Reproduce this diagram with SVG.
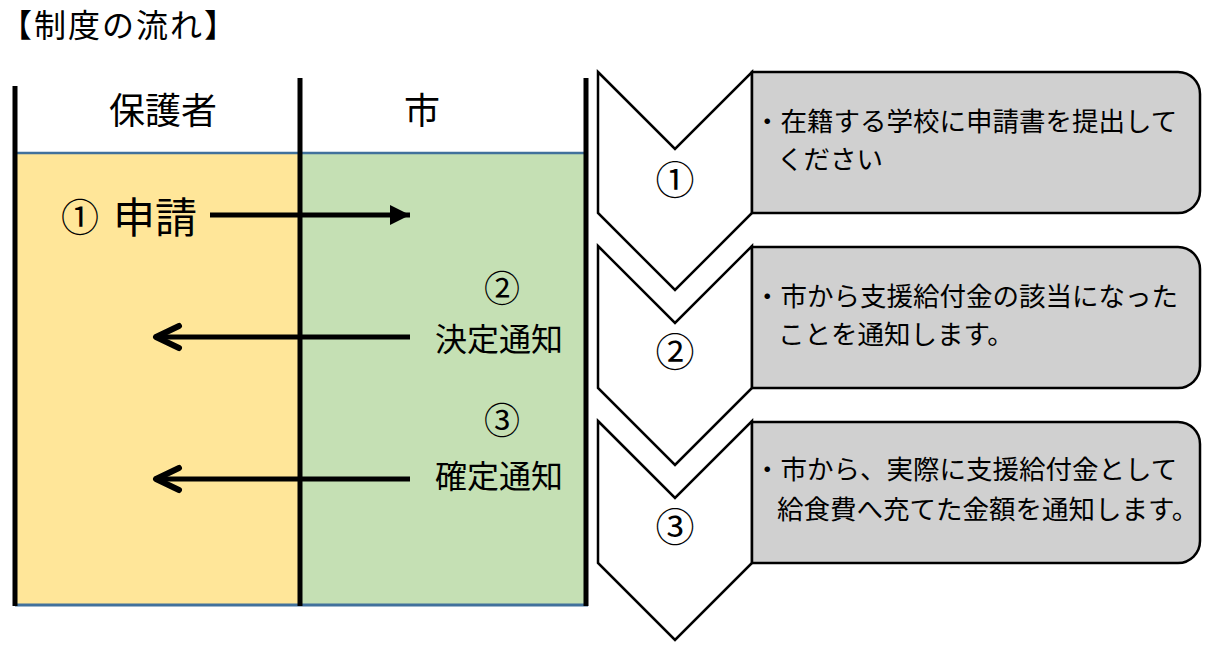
<svg xmlns="http://www.w3.org/2000/svg" width="1207" height="654" viewBox="0 0 1207 654">
<style>
text{font-family:"Noto Sans CJK JP","Noto Sans",sans-serif;fill:#000}
.hdr{font-size:36px;text-anchor:middle}
.lbl{font-size:32px;text-anchor:middle}
.num{font-size:36px;text-anchor:middle}
.cnum{font-size:39px;text-anchor:middle}
.bt{font-size:26.5px}
.chev{fill:#fff;stroke:#000;stroke-width:2.5;stroke-linejoin:miter}
.box{fill:#d0d0d0;stroke:#000;stroke-width:2.5}
.lane{stroke:#000;stroke-width:5}
.arr{stroke:#000;stroke-width:5;fill:none}
</style>
<defs>
<marker id="tri" viewBox="0 0 10 10" refX="10" refY="5" markerWidth="4" markerHeight="4" markerUnits="strokeWidth" orient="auto">
<path d="M0,0 L10,5 L0,10 Z" fill="#000"/>
</marker>
<marker id="open" viewBox="0 0 32 32" refX="28" refY="16" markerWidth="32" markerHeight="32" markerUnits="userSpaceOnUse" orient="auto">
<path d="M5,5 L28,16 L5,27" fill="none" stroke="#000" stroke-width="6" stroke-linecap="round" stroke-linejoin="round"/>
</marker>
</defs>
<g id="title"><text x="0" y="37" style="font-size:32px;letter-spacing:2px">【制度の流れ】</text></g>
<g id="lanes">
<rect x="15" y="153" width="285" height="452" fill="#ffe699"/>
<rect x="300" y="153" width="285" height="452" fill="#c5e0b4"/>
<line x1="15" y1="153" x2="585" y2="153" stroke="#41719c" stroke-width="2.5"/>
<line x1="15" y1="605" x2="588" y2="605" stroke="#41719c" stroke-width="3"/>
<line class="lane" x1="15" y1="86" x2="15" y2="606"/>
<line class="lane" x1="300" y1="78" x2="300" y2="606"/>
<line class="lane" x1="586" y1="78" x2="586" y2="606"/>
</g>
<g id="hdr-guardian"><text class="hdr" x="163" y="124">保護者</text></g>
<g id="hdr-city"><text class="hdr" x="422" y="124">市</text></g>
<g id="step1-label"><text x="61" y="231" style="font-size:38px">①</text><text x="113" y="233" style="font-size:42px">申請</text></g>
<g id="step2-label"><text class="num" x="502" y="302">②</text><text class="lbl" x="499" y="351">決定通知</text></g>
<g id="step3-label"><text class="num" x="502" y="434">③</text><text class="lbl" x="499" y="488">確定通知</text></g>
<g id="connectors">
<line class="arr" x1="210" y1="215" x2="410" y2="215" marker-end="url(#tri)"/>
<line class="arr" x1="410" y1="337" x2="156" y2="337" marker-end="url(#open)"/>
<line class="arr" x1="410" y1="479" x2="156" y2="479" marker-end="url(#open)"/>
</g>
<g id="chevron1"><path class="chev" d="M598,72 L675,149 L752,72 V213 L675,290 L598,213 Z"/><text class="cnum" x="675" y="194">①</text></g>
<g id="chevron2"><path class="chev" d="M598,246 L675,323 L752,246 V388 L675,465 L598,388 Z"/><text class="cnum" x="675" y="366">②</text></g>
<g id="chevron3"><path class="chev" d="M598,421 L675,498 L752,421 V563 L675,640 L598,563 Z"/><text class="cnum" x="675" y="541">③</text></g>
<g id="box1"><path class="box" d="M752,72 H1178 A22,22 0 0 1 1200,94 V191 A22,22 0 0 1 1178,213 H752 Z"/>
<text class="bt" x="754" y="131">・在籍する学校に申請書を提出して</text>
<text class="bt" x="777" y="169">ください</text></g>
<g id="box2"><path class="box" d="M752,247 H1178 A22,22 0 0 1 1200,269 V366 A22,22 0 0 1 1178,388 H752 Z"/>
<text class="bt" x="754" y="306">・市から支援給付金の該当になった</text>
<text class="bt" x="778" y="344">ことを通知します。</text></g>
<g id="box3"><path class="box" d="M752,422 H1178 A22,22 0 0 1 1200,444 V541 A22,22 0 0 1 1178,563 H752 Z"/>
<text class="bt" x="754" y="479">・市から、実際に支援給付金として</text>
<text class="bt" x="777" y="519">給食費へ充てた金額を通知します。</text></g>
</svg>
